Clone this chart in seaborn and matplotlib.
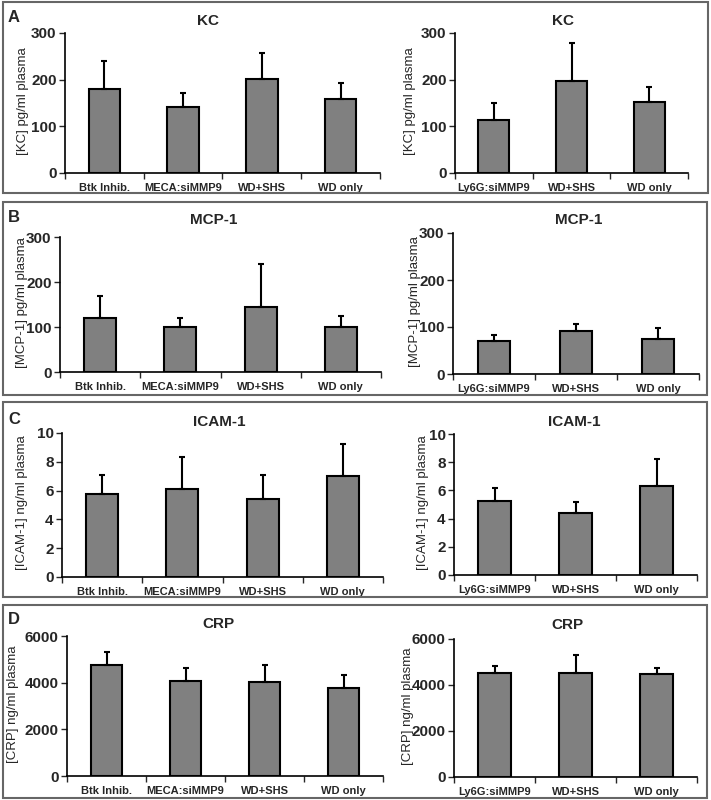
import numpy as np
import pandas as pd
import matplotlib
matplotlib.use("Agg")
import matplotlib.pyplot as plt
import seaborn as sns
from matplotlib.patches import Rectangle

# =========================
# DATA
# =========================

groups_left = ["Btk Inhib.", "MECA:siMMP9", "WD+SHS", "WD only"]
groups_right = ["Ly6G:siMMP9", "WD+SHS", "WD only"]

kc_left = [180, 141, 201, 159]
kc_left_err = [60, 30, 57, 34]
kc_right = [113, 197, 153]
kc_right_err = [36, 82, 31]

mcp_left = [121, 101, 145, 100]
mcp_left_err = [49, 18, 96, 25]
mcp_right = [70, 92, 75]
mcp_right_err = [13, 15, 22]

icam_left = [5.77, 6.14, 5.40, 6.98]
icam_left_err = [1.32, 2.2, 1.67, 2.28]
icam_right = [5.27, 4.37, 6.31]
icam_right_err = [0.9, 0.78, 1.92]

crp_left = [4742, 4069, 4040, 3782]
crp_left_err = [590, 573, 731, 530]
crp_right = [4507, 4522, 4478]
crp_right_err = [333, 782, 261]

# =========================
# FIGURE
# =========================

sns.set_style("white")
plt.rcParams["font.family"] = ["Liberation Sans", "DejaVu Sans"]

W, H = 711, 800
fig = plt.figure(figsize=(W / 100, H / 100), dpi=100)


def fx(x):
    return x / W


def fy(y):
    return 1 - y / H


def add_ax(x0, x1, y0, y1):
    return fig.add_axes([fx(x0), fy(y1), fx(x1) - fx(x0), (y1 - y0) / H])


def bar_panel(box, groups, vals, errs, ymax, yticks, ylabel, title, title_xy, ylab_x):
    x0, x1, y0, y1 = box
    ax = add_ax(x0, x1, y0, y1)
    df = pd.DataFrame({"group": groups, "value": vals})
    sns.barplot(data=df, x="group", y="value", order=groups, color="#808080",
                width=0.4, errorbar=None, edgecolor="black", linewidth=1.5,
                saturation=1, ax=ax)
    xs = np.arange(len(groups))
    ax.errorbar(xs, vals, yerr=[np.zeros(len(errs)), errs], fmt="none",
                ecolor="black", elinewidth=1.5, capsize=2.5, capthick=1.5,
                zorder=1)
    ax.set_xlim(-0.5, len(groups) - 0.5)
    ax.set_ylim(0, ymax)
    ax.set_yticks(yticks)
    ax.set_yticklabels([str(t) for t in yticks], fontsize=11, fontweight="bold")
    ax.set_xticks(xs)
    ax.set_xticklabels(groups, fontsize=8, fontweight="bold")
    ax.set_xticks(np.arange(len(groups) + 1) - 0.5, minor=True)
    ax.tick_params(axis="x", which="major", length=0, pad=7)
    ax.tick_params(axis="x", which="minor", length=4, width=1, direction="out",
                   bottom=True)
    ax.tick_params(axis="y", length=4, width=1, direction="out", left=True, pad=2)
    for s in ["top", "right"]:
        ax.spines[s].set_visible(False)
    for s in ["left", "bottom"]:
        ax.spines[s].set_color("black")
        ax.spines[s].set_linewidth(1.2)
    ax.set_xlabel("")
    ax.set_ylabel("")
    fig.text(fx(ylab_x), fy((y0 + y1) / 2 - 2), ylabel, rotation=90,
             ha="center", va="center", fontsize=9.5)
    fig.text(fx(title_xy[0]), fy(title_xy[1]), title, ha="center", va="center",
             fontsize=11, fontweight="bold")
    return ax


# Panel A - KC
bar_panel((65, 380, 33, 173), groups_left, kc_left, kc_left_err, 300,
          [0, 100, 200, 300], "[KC] pg/ml plasma", "KC", (208, 21), 23)
bar_panel((455, 688, 33, 173), groups_right, kc_right, kc_right_err, 300,
          [0, 100, 200, 300], "[KC] pg/ml plasma", "KC", (563, 21), 410)

# Panel B - MCP-1
bar_panel((60, 381, 237, 372), groups_left, mcp_left, mcp_left_err, 300,
          [0, 100, 200, 300], "[MCP-1] pg/ml plasma", "MCP-1", (214, 220), 22)
bar_panel((453, 699, 233, 374), groups_right, mcp_right, mcp_right_err, 300,
          [0, 100, 200, 300], "[MCP-1] pg/ml plasma", "MCP-1", (579, 220), 415)

# Panel C - ICAM-1
bar_panel((62, 383, 433, 577), groups_left, icam_left, icam_left_err, 10,
          [0, 2, 4, 6, 8, 10], "[ICAM-1] ng/ml plasma", "ICAM-1", (219, 422), 22)
bar_panel((454, 697, 434, 575), groups_right, icam_right, icam_right_err, 10,
          [0, 2, 4, 6, 8, 10], "[ICAM-1] ng/ml plasma", "ICAM-1", (574, 422), 423)

# Panel D - CRP
bar_panel((67, 383, 636, 776), groups_left, crp_left, crp_left_err, 6000,
          [0, 2000, 4000, 6000], "[CRP] ng/ml plasma", "CRP", (218, 624), 13)
bar_panel((454, 697, 639, 777), groups_right, crp_right, crp_right_err, 6000,
          [0, 2000, 4000, 6000], "[CRP] ng/ml plasma", "CRP", (567, 625), 408)

# =========================
# PANEL BOXES AND LETTERS
# =========================

boxes = [(3, 2, 708, 193), (3, 202, 707, 395), (3, 402, 707, 597), (3, 605, 707, 798)]
letters = ["A", "B", "C", "D"]
letter_y = [17, 218, 420, 620]

for (bx0, by0, bx1, by1), letter, ly in zip(boxes, letters, letter_y):
    fig.patches.append(Rectangle((fx(bx0), fy(by1)), fx(bx1) - fx(bx0),
                                 (by1 - by0) / H, transform=fig.transFigure,
                                 fill=False, edgecolor="#666666", linewidth=1.5))
    fig.text(fx(8), fy(ly), letter, ha="left", va="center", fontsize=12,
             fontweight="bold")

plt.savefig("out.png", dpi=100)
